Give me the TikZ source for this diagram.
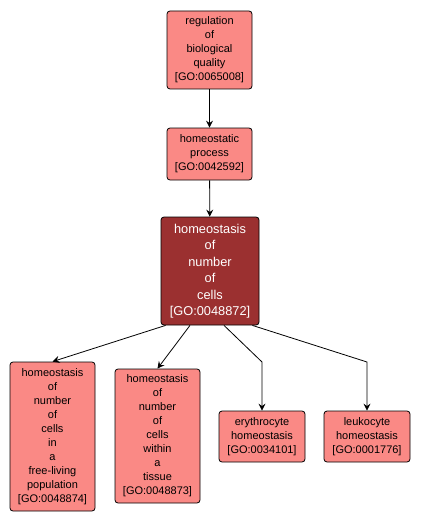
\documentclass[tikz,border=0pt]{standalone}
\usepackage{fontspec}
\setmainfont{Liberation Sans}
\usetikzlibrary{arrows.meta}
\definecolor{gopink}{RGB}{250,137,133}
\definecolor{godark}{RGB}{155,48,48}
\tikzset{
  goterm/.style={draw=black, line width=0.8pt, rounded corners=3pt, fill=gopink, align=center, inner sep=0pt, font=\fontsize{11}{14}\selectfont},
  gomain/.style={goterm, fill=godark, text=white, font=\fontsize{12.8}{16.5}\selectfont},
  goedge/.style={draw=black, line width=0.8pt, -{Stealth[length=7pt,width=7pt,inset=2.5pt]}}
}
\begin{document}
\begin{tikzpicture}[x=1pt,y=-1pt]
\useasboundingbox (0,0) rectangle (420,524);
\node[goterm, minimum width=85pt, minimum height=78pt] (rbq) at (209.5,50) {regulation\\of\\biological\\quality\\{[GO:0065008]}};
\node[goterm, minimum width=85pt, minimum height=52pt] (hp) at (209.5,154) {homeostatic\\process\\{[GO:0042592]}};
\node[gomain, minimum width=98pt, minimum height=108pt] (hnc) at (210,271) {homeostasis\\of\\number\\of\\cells\\{[GO:0048872]}};
\node[goterm, minimum width=85pt, minimum height=149pt] (fl) at (52.5,436.5) {homeostasis\\of\\number\\of\\cells\\in\\a\\free-living\\population\\{[GO:0048874]}};
\node[goterm, minimum width=85pt, minimum height=134pt] (wt) at (157.5,436) {homeostasis\\of\\number\\of\\cells\\within\\a\\tissue\\{[GO:0048873]}};
\node[goterm, minimum width=86pt, minimum height=51pt] (ery) at (262,436.5) {erythrocyte\\homeostasis\\{[GO:0034101]}};
\node[goterm, minimum width=86pt, minimum height=51pt] (leu) at (367,436.5) {leukocyte\\homeostasis\\{[GO:0001776]}};
\coordinate (b1) at (262,362);
\coordinate (b2) at (367,362);
\draw[goedge] (rbq) -- (hp);
\draw[goedge] (hp) -- (hnc);
\draw[goedge] (hnc.south west) ++(5,0) -- (fl.north);
\draw[goedge] ([xshift=-20pt]hnc.south) -- (wt.north);
\draw[goedge] ([xshift=14pt]hnc.south) -- (b1) -- (ery.north);
\draw[goedge] ([xshift=-7pt]hnc.south east) -- (b2) -- (leu.north);
\end{tikzpicture}
\end{document}
